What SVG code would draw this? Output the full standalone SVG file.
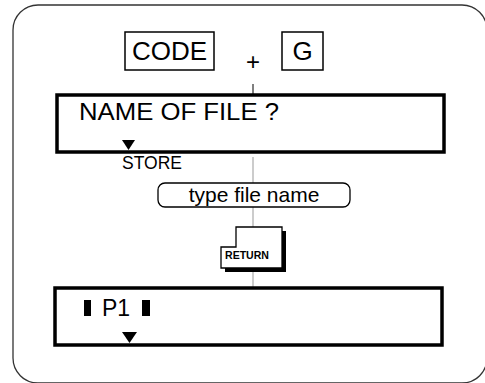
<svg xmlns="http://www.w3.org/2000/svg" width="485" height="383" viewBox="0 0 485 383">
<style>
.t{font-family:"Liberation Sans",Arial,sans-serif;fill:#000}
.key{fill:#fff;stroke:#000;stroke-width:1.5}
.scr{fill:#fff;stroke:#000;stroke-width:3.5}
.conn{stroke-width:1;fill:none}
</style>
<rect x="0" y="0" width="485" height="383" fill="#fff"/>
<rect id="frame" x="13" y="5" width="474" height="378" rx="25" ry="25" fill="none" stroke="#333" stroke-width="1.3"/>
<g id="connectors">
<line class="conn" x1="253" y1="84" x2="253" y2="95" stroke="#000"/>
<line class="conn" x1="253" y1="157" x2="253" y2="183" stroke="#999"/>
<line class="conn" x1="253" y1="207" x2="253" y2="227" stroke="#999"/>
<line class="conn" x1="253" y1="272" x2="253" y2="288" stroke="#999"/>
</g>
<g id="code-key">
<rect class="key" x="125" y="32" width="89" height="38"/>
<text class="t" x="169.5" y="60" font-size="26" text-anchor="middle">CODE</text>
</g>
<g id="plus">
<text class="t" x="253" y="70" font-size="24" text-anchor="middle">+</text>
</g>
<g id="g-key">
<rect class="key" x="282" y="32" width="41" height="38"/>
<text class="t" x="302.5" y="60" font-size="26" text-anchor="middle">G</text>
</g>
<g id="name-screen">
<rect class="scr" x="57" y="95" width="387" height="57"/>
<text class="t" x="79" y="120" font-size="24" textLength="200" lengthAdjust="spacingAndGlyphs">NAME OF FILE ?</text>
<polygon points="122,140 135,140 128.5,150" fill="#000"/>
</g>
<g id="store">
<text class="t" x="122" y="169" font-size="17.5">STORE</text>
</g>
<g id="type-file-name">
<rect x="158" y="183" width="192" height="24" rx="7" ry="7" fill="#fff" stroke="#000" stroke-width="1.3"/>
<text class="t" x="254" y="202" font-size="21" text-anchor="middle">type file name</text>
</g>
<g id="return-key">
<path d="M240,231 H286 V272 H225 V251 H240 Z" fill="#000"/>
<path d="M236,227 H282 V268 H221 V247 H236 Z" fill="#fff" stroke="#000" stroke-width="1.3"/>
<text class="t" x="225" y="259" font-size="10" font-weight="bold" textLength="44" lengthAdjust="spacingAndGlyphs">RETURN</text>
</g>
<g id="p1-screen">
<rect class="scr" x="55" y="288" width="387" height="57"/>
<rect x="84" y="300" width="7" height="16" fill="#000"/>
<text class="t" x="102" y="316" font-size="23">P1</text>
<rect x="142" y="300" width="8" height="16" fill="#000"/>
<polygon points="122,332 137,332 129.5,343" fill="#000"/>
</g>
</svg>
